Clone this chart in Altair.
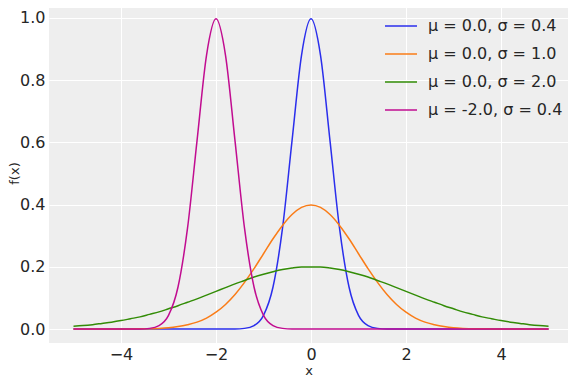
import altair as alt
import pandas as pd

x_vals = [round(-5.0 + 0.2 * i, 1) for i in range(51)]

# values, on the shared x grid (-5.0 ... 5.0 step 0.2)
# mu = 0, sigma = 0.4 (half, from x = 0 outwards)
half_s04 = [0.997, 0.880, 0.605, 0.324, 0.135, 0.044, 0.011, 0.002, 0.000]
# mu = 0, sigma = 1.0
half_s10 = [0.399, 0.391, 0.368, 0.333, 0.290, 0.242, 0.194, 0.150, 0.111, 0.079,
            0.054, 0.035, 0.022, 0.014, 0.008, 0.004, 0.002, 0.001, 0.001, 0.000]
# mu = 0, sigma = 2.0
half_s20 = [0.199, 0.199, 0.196, 0.191, 0.184, 0.176, 0.167, 0.156, 0.145, 0.133,
            0.121, 0.109, 0.097, 0.086, 0.075, 0.065, 0.055, 0.047, 0.039, 0.033,
            0.027, 0.022, 0.018, 0.014, 0.011, 0.009]

labels = ["μ = 0.0, σ = 0.4", "μ = 0.0, σ = 1.0", "μ = 0.0, σ = 2.0", "μ = -2.0, σ = 0.4"]
centers = [0.0, 0.0, 0.0, -2.0]
halves = [half_s04, half_s10, half_s20, half_s04]
colors = ["#2a2eec", "#fa7c17", "#328c06", "#c10c90"]

rows = []
for lab, c, h in zip(labels, centers, halves):
    for x in x_vals:
        k = int(round(abs(x - c) / 0.2))
        v = h[k] if k < len(h) else 0.0
        rows.append({"x": x, "f": v, "s": lab})
df = pd.DataFrame(rows)

chart = alt.Chart(df).mark_line(strokeWidth=1.5, interpolate="monotone").encode(
    x=alt.X("x:Q", title="x", scale=alt.Scale(domain=[-5.516, 5.41], nice=False, zero=False),
            axis=alt.Axis(values=[-4, -2, 0, 2, 4], labelExpr="replace(datum.label, '-', '−')")),
    y=alt.Y("f:Q", title="f(x)", scale=alt.Scale(domain=[-0.045, 1.048], nice=False, zero=False),
            axis=alt.Axis(values=[0, 0.2, 0.4, 0.6, 0.8, 1.0], format=".1f")),
    color=alt.Color("s:N", scale=alt.Scale(domain=labels, range=colors),
                    legend=alt.Legend(title=None, orient="none", legendX=335, legendY=6,
                                      symbolType="stroke", symbolSize=1024, symbolStrokeWidth=1.5,
                                      labelFontSize=16, rowPadding=3, labelColor="#262626",
                                      labelOffset=10, labelFont="DejaVu Sans")),
).properties(
    width=519, height=340,
    autosize=alt.AutoSizeParams(type="none"),
    padding={"left": 41, "top": -5, "right": 0, "bottom": 33},
    background="white",
).configure_view(fill="#eeeeee", stroke=None).configure_axis(
    grid=True, gridColor="white", gridWidth=1, domain=False, ticks=False,
    labelFont="DejaVu Sans", labelFontSize=16, labelColor="#262626",
    titleFont="DejaVu Sans", titleFontSize=13, titleFontWeight="normal", titleColor="#262626",
).configure_axisY(titlePadding=-2, labelPadding=4).configure_axisX(titlePadding=2, labelPadding=3)

chart.save("out.html", embed_options={"renderer": "svg", "actions": False})
